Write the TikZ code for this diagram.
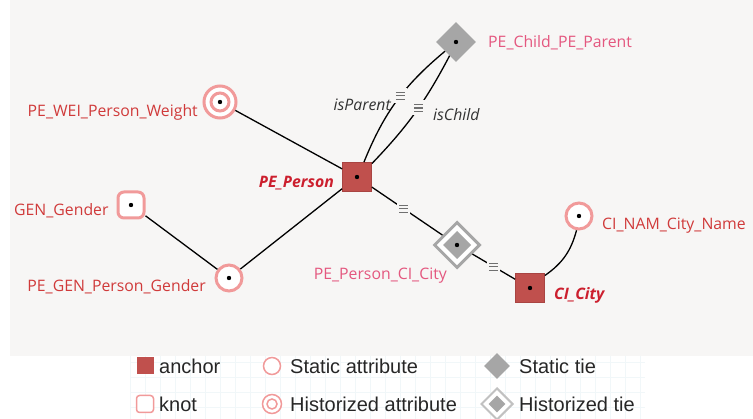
\documentclass[tikz,border=0pt]{standalone}
\usepackage{fontspec}
\setmainfont{Open Sans}
\newfontfamily\legendfont{Liberation Sans}
\usetikzlibrary{shapes.geometric,calc}
\definecolor{panel}{HTML}{F7F6F5}
\definecolor{anchorfill}{HTML}{C0504D}
\definecolor{anchordraw}{HTML}{A94442}
\definecolor{attrpink}{HTML}{F19A9A}
\definecolor{tiegray}{HTML}{A6A6A6}
\definecolor{lblred}{HTML}{D03A3A}
\definecolor{anchorred}{HTML}{CC1F2E}
\definecolor{tiepink}{HTML}{E4577F}
\definecolor{roletext}{HTML}{333333}
\definecolor{eqgray}{HTML}{707070}
\definecolor{gridc}{HTML}{F1F7F9}
\tikzset{
  anchorbox/.style={rectangle, minimum size=29pt, inner sep=0pt, fill=anchorfill, draw=anchordraw, line width=0.8pt},
  knotbox/.style={rectangle, rounded corners=6pt, minimum size=26pt, inner sep=0pt, fill=white, draw=attrpink, line width=3pt},
  sattr/.style={circle, minimum size=26pt, inner sep=0pt, fill=white, draw=attrpink, line width=3pt},
  hattr/.style={circle, minimum size=32pt, inner sep=0pt, fill=white, draw=attrpink, line width=3pt},
  stie/.style={diamond, minimum size=40pt, inner sep=0pt, fill=tiegray},
  htie/.style={diamond, minimum size=46pt, inner sep=0pt, fill=white, draw=tiegray, line width=3pt},
  edge/.style={line width=1.3pt, black},
  eqmark/.style={fill=panel, inner sep=0pt, minimum width=13pt, minimum height=15pt,
    path picture={
      \foreach \dy in {-3.5,0,3.5}
        \draw[eqgray, line width=1.3pt] ($(path picture bounding box.center)+(-4.5,\dy)$) -- ++(9,0);
    }},
  attrlbl/.style={text=lblred, font=\fontsize{15.8}{17}\selectfont, inner sep=0pt},
  anchorlbl/.style={text=anchorred, font=\fontsize{15.8}{17}\selectfont\bfseries\itshape, inner sep=0pt},
  tielbl/.style={text=tiepink, font=\fontsize{15.8}{17}\selectfont, inner sep=0pt},
  rolelbl/.style={text=roletext, font=\fontsize{15.8}{17}\selectfont\itshape, inner sep=0pt},
  leglbl/.style={text=black!85, font=\legendfont\fontsize{20}{21}\selectfont, inner sep=0pt, anchor=west},
}
\begin{document}
\begin{tikzpicture}[x=1pt, y=-1pt]
\useasboundingbox (0,0) rectangle (753,419);
\fill[panel] (10,0) rectangle (753,356);
% faint legend background grid
\begin{scope}
\clip (130,356) rectangle (645,419);
\foreach \gx in {130,145,...,645} \draw[gridc, line width=0.6pt] (\gx,356) -- (\gx,419);
\foreach \gy in {362,377,...,419} \draw[gridc, line width=0.6pt] (130,\gy) -- (645,\gy);
\end{scope}

% nodes
\node[anchorbox] (pp) at (357,177) {};
\node[anchorbox] (cc) at (530,288) {};
\node[stie] (ct) at (456,42) {};
\node[htie] (pc) at (457,245) {};
\node[hattr] (wei) at (220,102) {};
\node[sattr] (gen) at (229,278) {};
\node[knotbox] (kg) at (131,205) {};
\node[sattr] (nam) at (579,216) {};

% inner parts of historized shapes
\draw[attrpink, line width=3pt] (wei) circle (9);
\fill[tiegray] ($(pc)+(0,-14)$) -- ($(pc)+(14,0)$) -- ($(pc)+(0,14)$) -- ($(pc)+(-14,0)$) -- cycle;

% connectors
\draw[edge] (pp) -- (wei);
\draw[edge] (pp) -- (gen);
\draw[edge] (kg) -- (gen);
\draw[edge] (pp.65) to[bend left=14] node[eqmark, pos=0.55] (eqp) {} (ct.220);
\draw[edge] (pp.42) to[bend right=8] node[eqmark, pos=0.55] (eqc) {} (ct.245);
\draw[edge] (pp) -- node[eqmark, pos=0.45] (eq1) {} (pc);
\draw[edge] (pc) -- node[eqmark, pos=0.5] (eq2) {} (cc);
\draw[edge] (cc.40) to[bend right=20] (nam);

% dots
\foreach \n in {pp,cc,ct,pc,wei,gen,kg,nam} \fill[black] (\n) circle (2.2);

% labels
\node[attrlbl, anchor=east] (lwei) at (198,112) {PE\_WEI\_Person\_Weight};
\node[anchorlbl, anchor=east] (lpp) at (334,183) {PE\_Person};
\node[attrlbl, anchor=west] (lkg) at (14,211) {GEN\_Gender};
\node[attrlbl, anchor=east] (lgen) at (206,287) {PE\_GEN\_Person\_Gender};
\node[tielbl, anchor=west] (lct) at (488,43) {PE\_Child\_PE\_Parent};
\node[tielbl, anchor=east] (lpc) at (447,276) {PE\_Person\_CI\_City};
\node[anchorlbl, anchor=west] (lcc) at (554,295) {CI\_City};
\node[attrlbl, anchor=west] (lnam) at (602,226) {CI\_NAM\_City\_Name};
\node[rolelbl, anchor=east] (lpar) at (391,105) {isParent};
\node[rolelbl, anchor=west] (lchi) at (433,115) {isChild};

% legend
\node[rectangle, minimum size=17pt, inner sep=0pt, fill=anchorfill] (la) at (145,366) {};
\node[leglbl] (lat) at (159,366) {anchor};
\node[rectangle, rounded corners=3pt, minimum size=17pt, inner sep=0pt, fill=white, draw=attrpink, line width=1.5pt] (lk) at (145,404) {};
\node[leglbl] (lkt) at (159,404) {knot};
\node[circle, minimum size=17pt, inner sep=0pt, fill=white, draw=attrpink, line width=1.5pt] (lsa) at (272,366) {};
\node[leglbl] (lsat) at (290,366) {Static attribute};
\node[circle, minimum size=19pt, inner sep=0pt, fill=white, draw=attrpink, line width=1.5pt] (lha) at (272,404) {};
\draw[attrpink, line width=1.5pt] (lha) circle (5);
\node[leglbl] (lhat) at (290,404) {Historized attribute};
\node[diamond, minimum size=26pt, inner sep=0pt, fill=tiegray] (lst) at (497,366) {};
\node[leglbl] (lstt) at (519,366) {Static tie};
\node[diamond, minimum size=32pt, inner sep=0pt, fill=white, draw=tiegray!70, line width=2pt] (lht) at (497,404) {};
\node[diamond, minimum size=17pt, inner sep=0pt, fill=tiegray] at (lht) {};
\node[leglbl] (lhtt) at (519,404) {Historized tie};
\end{tikzpicture}
\end{document}
